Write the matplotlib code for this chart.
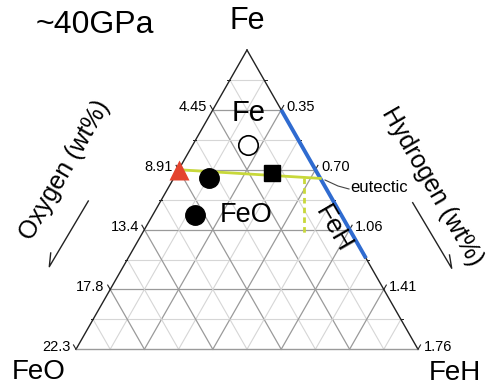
import matplotlib
matplotlib.use("Agg")
import matplotlib.pyplot as plt
import numpy as np

plt.rcParams['font.family'] = ['Liberation Sans', 'DejaVu Sans']

# Fe fraction at the labelled edge ticks and their wt% labels
tick_fe = [0.0, 0.2, 0.4, 0.6, 0.8]
oxygen_labels = ['22.3', '17.8', '13.4', '8.91', '4.45']
hydrogen_labels = ['1.76', '1.41', '1.06', '0.70', '0.35']

# compositions as (Fe fraction, FeH fraction); FeO is the rest
start_fe, start_feh = [0.6], [0.0]                 # red triangle
solid_fe, solid_feh = [0.571, 0.449], [0.104, 0.124]
square_fe, square_feh = [0.588], [0.278]
open_fe, open_feh = [0.683], [0.160]
liq_fe, liq_feh = [0.6, 0.571], [0.0, 0.429]        # yellow line to eutectic
dot_fe, dot_feh = [0.571, 0.382], [0.382, 0.4765]   # dotted line
feh_fe, feh_feh = [0.8, 0.304], [0.2, 0.696]        # blue FeH field


def tern(fe, feh):
    fe = np.asarray(fe, float)
    feh = np.asarray(feh, float)
    return feh + fe / 2, fe


W, H = 491, 387
fig = plt.figure(figsize=(W / 100, H / 100), dpi=100)
ax = fig.add_axes([0, 0, 1, 1])
ax.set_xlim(-76 / 342, (W - 76) / 342)
ax.set_ylim((349.3 - H) / 299.3, 349.3 / 299.3)
ax.axis('off')


def px(x, y):
    # pixel position -> figure fraction, for decorations
    return x / W, 1 - y / H


# grid
for i in range(1, 10):
    k = i / 10
    col = '#9a9a9a' if i % 2 == 0 else '#d6d6d6'
    lw = 0.9 if i % 2 == 0 else 0.8
    for fe, feh in [([k, k], [0, 1 - k]),
                    ([0, 1 - k], [k, k]),
                    ([1 - k, 0], [0, 1 - k])]:
        x, y = tern(fe, feh)
        ax.plot(x, y, color=col, lw=lw, zorder=1)

# edges
x, y = tern([0, 1], [0, 0])
ax.plot(x, y, color='#222222', lw=1.0, zorder=2)
x, y = tern([1, 0], [0, 1])
ax.plot(x, y, color='#222222', lw=1.0, zorder=2)
x, y = tern([0, 0], [0, 1])
ax.plot(x, y, color='#9a9a9a', lw=1.0, zorder=2)

# ticks and labels on the two side edges
dx, dy = 5 / 342, 5 / 299.3
for fe, ol, hl in zip(tick_fe, oxygen_labels, hydrogen_labels):
    x, y = tern(fe, 0)
    ax.plot([x, x - dx * 0.5], [y, y + dy * 0.87], color='#222222', lw=0.8)
    ax.annotate(ol, (x, y), xytext=(-4, 2), textcoords='offset points',
                ha='right', va='center', fontsize=10.5)
    x, y = tern(fe, 1 - fe)
    ax.plot([x, x + dx * 0.5], [y, y + dy * 0.87], color='#222222', lw=0.8)
    ax.annotate(hl, (x, y), xytext=(4, 2), textcoords='offset points',
                ha='left', va='center', fontsize=10.5)
for fe in [0.1, 0.3, 0.5, 0.7, 0.9]:
    x, y = tern(fe, 0)
    ax.plot([x, x - dx * 0.5], [y, y], color='#222222', lw=0.7)
    x, y = tern(fe, 1 - fe)
    ax.plot([x, x + dx * 0.5], [y, y], color='#222222', lw=0.7)

# phase lines
x, y = tern(feh_fe, feh_feh)
ax.plot(x, y, color='#2f6bd0', lw=2.8, zorder=3, solid_capstyle='butt')
x, y = tern(liq_fe, liq_feh)
ax.plot(x, y, color='#c8d83a', lw=2.0, zorder=3)
x, y = tern(dot_fe, dot_feh)
ax.plot(x, y, color='#c8d83a', lw=2.0, ls=(0, (2, 1.5)), zorder=3)

# markers
x, y = tern(start_fe, start_feh)
ax.plot(x, y, '^', ms=14.5, color='#e4432d', mec='none', zorder=5)
x, y = tern(solid_fe, solid_feh)
ax.plot(x, y, 'o', ms=14, color='black', ls='none', zorder=5)
x, y = tern(square_fe, square_feh)
ax.plot(x, y, 's', ms=11.5, color='black', zorder=5)
x, y = tern(open_fe, open_feh)
ax.plot(x, y, 'o', ms=14, mfc='white', mec='black', mew=1.2, zorder=5)

# eutectic leader
lx, ly = zip(px(325, 180), px(338, 186), px(349, 189))
ax.plot(lx, ly, color='#444444', lw=0.8, transform=fig.transFigure)
fig.text(*px(350, 187), 'eutectic', fontsize=12, ha='left', va='center')

# text
fig.text(*px(95, 25), '~40GPa', fontsize=23, ha='center', va='center')
fig.text(*px(247, 21), 'Fe', fontsize=22, ha='center', va='center')
fig.text(*px(39, 372), 'FeO', fontsize=20, ha='center', va='center')
fig.text(*px(455, 373), 'FeH', fontsize=20, ha='center', va='center')
fig.text(*px(249, 113), 'Fe', fontsize=21, ha='center', va='center')
fig.text(*px(246, 215), 'FeO', fontsize=19.5, ha='center', va='center')
fig.text(*px(333, 229), 'FeH', fontsize=19, ha='center', va='center',
         rotation=-60, rotation_mode='anchor')
fig.text(*px(65, 170), 'Oxygen (wt%)', fontsize=18, ha='center',
         va='center', rotation=60, rotation_mode='anchor')
fig.text(*px(432, 186), 'Hydrogen (wt%)', fontsize=18, ha='center',
         va='center', rotation=-60, rotation_mode='anchor')

# direction arrows
for (x0, y0), (x1, y1), (x2, y2) in [((88.3, 201), (49.3, 266.7), (50.7, 253)),
                                      ((412.7, 202.7), (451.7, 268.3), (449.5, 255))]:
    a, b = px(x0, y0)
    c, d = px(x1, y1)
    e, f = px(x2, y2)
    ax.plot([a, c, e], [b, d, f], color='#222222', lw=1.0,
            transform=fig.transFigure)

fig.savefig('out.png', dpi=100)
